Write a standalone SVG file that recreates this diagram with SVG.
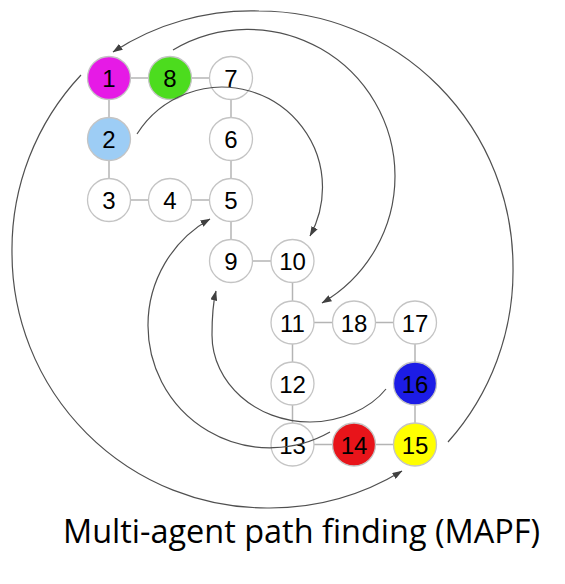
<svg xmlns="http://www.w3.org/2000/svg" width="565" height="584" viewBox="0 0 565 584">
<style>
.edge{stroke:#b4b4b4;stroke-width:1.5;fill:none}
.node{stroke:#c4c4c4;stroke-width:1.3}
.lbl{font-family:"Liberation Sans","DejaVu Sans",sans-serif;font-size:24px;fill:#000;text-anchor:middle}
.arc{stroke:#505050;stroke-width:1.2;fill:none;marker-end:url(#ah)}
.cap{font-family:"Open Sans","Liberation Sans",sans-serif;font-size:32px;fill:#000}
</style>
<defs>
<marker id="ah" markerUnits="userSpaceOnUse" markerWidth="10" markerHeight="7" refX="9.5" refY="3.5" orient="auto">
<path d="M0,0 L10,3.5 L0,7 z" fill="#404040"/>
</marker>
</defs>
<rect width="565" height="584" fill="#fff"/>
<g id="edges">
<line class="edge" x1="109" y1="78" x2="231" y2="78"/>
<line class="edge" x1="109" y1="78" x2="109" y2="200"/>
<line class="edge" x1="109" y1="200" x2="231" y2="200"/>
<line class="edge" x1="231" y1="78" x2="231" y2="261"/>
<line class="edge" x1="231" y1="261" x2="292.5" y2="261"/>
<line class="edge" x1="292.5" y1="261" x2="292.5" y2="444.5"/>
<line class="edge" x1="292.5" y1="322.5" x2="415" y2="322.5"/>
<line class="edge" x1="415" y1="322.5" x2="415" y2="444.5"/>
<line class="edge" x1="292.5" y1="444.5" x2="415" y2="444.5"/>
</g>
<g id="n1"><circle class="node" cx="109" cy="78" r="21.5" fill="#e61ae6"/><text class="lbl" x="109" y="87">1</text></g>
<g id="n8"><circle class="node" cx="170" cy="78" r="21.5" fill="#4cdc1e"/><text class="lbl" x="170" y="87">8</text></g>
<g id="n7"><circle class="node" cx="231" cy="78" r="21.5" fill="#fff"/><text class="lbl" x="231" y="87">7</text></g>
<g id="n2"><circle class="node" cx="109" cy="139" r="21.5" fill="#9dcdf5"/><text class="lbl" x="109" y="148">2</text></g>
<g id="n6"><circle class="node" cx="231" cy="139" r="21.5" fill="#fff"/><text class="lbl" x="231" y="148">6</text></g>
<g id="n3"><circle class="node" cx="109" cy="200" r="21.5" fill="#fff"/><text class="lbl" x="109" y="209">3</text></g>
<g id="n4"><circle class="node" cx="170" cy="200" r="21.5" fill="#fff"/><text class="lbl" x="170" y="209">4</text></g>
<g id="n5"><circle class="node" cx="231" cy="200" r="21.5" fill="#fff"/><text class="lbl" x="231" y="209">5</text></g>
<g id="n9"><circle class="node" cx="231" cy="261" r="21.5" fill="#fff"/><text class="lbl" x="231" y="270">9</text></g>
<g id="n10"><circle class="node" cx="292.5" cy="261" r="21.5" fill="#fff"/><text class="lbl" x="292.5" y="270">10</text></g>
<g id="n11"><circle class="node" cx="292.5" cy="322.5" r="21.5" fill="#fff"/><text class="lbl" x="292.5" y="331.5">11</text></g>
<g id="n18"><circle class="node" cx="354" cy="322.5" r="21.5" fill="#fff"/><text class="lbl" x="354" y="331.5">18</text></g>
<g id="n17"><circle class="node" cx="415" cy="322.5" r="21.5" fill="#fff"/><text class="lbl" x="415" y="331.5">17</text></g>
<g id="n12"><circle class="node" cx="292.5" cy="383.5" r="21.5" fill="#fff"/><text class="lbl" x="292.5" y="392.5">12</text></g>
<g id="n16"><circle class="node" cx="415" cy="383.5" r="21.5" fill="#1c1ce6"/><text class="lbl" x="415" y="392.5">16</text></g>
<g id="n13"><circle class="node" cx="292.5" cy="444.5" r="21.5" fill="#fff"/><text class="lbl" x="292.5" y="453.5">13</text></g>
<g id="n14"><circle class="node" cx="354" cy="444.5" r="21.5" fill="#e8141a"/><text class="lbl" x="354" y="453.5">14</text></g>
<g id="n15"><circle class="node" cx="415" cy="444.5" r="21.5" fill="#ffff00"/><text class="lbl" x="415" y="453.5">15</text></g>
<g id="connectors">
<path class="arc" d="M448,442 A254,256 0 0 0 513,267 A254,256 0 0 0 259,11 A254,256 0 0 0 113,52"/>
<path class="arc" d="M81,75 A255,255 0 0 0 12,253 A255,255 0 0 0 267,508 A255,255 0 0 0 402,471"/>
<path class="arc" d="M173,50 A147,147 0 0 1 395,176 A147,147 0 0 1 322,303"/>
<path class="arc" d="M137,134 A100.5,100.5 0 0 1 322.5,187 A100.5,100.5 0 0 1 310,236"/>
<path class="arc" d="M330,432 A122,122 0 0 1 148,325 A122,122 0 0 1 210,219"/>
<path class="arc" d="M386,389 C370,409 340,422 310,422 C256,422 212,383 212,335 C212,318 213,303 216,291"/>
</g>
<text class="cap" x="63" y="543" textLength="477" lengthAdjust="spacingAndGlyphs">Multi-agent path finding (MAPF)</text>
</svg>
